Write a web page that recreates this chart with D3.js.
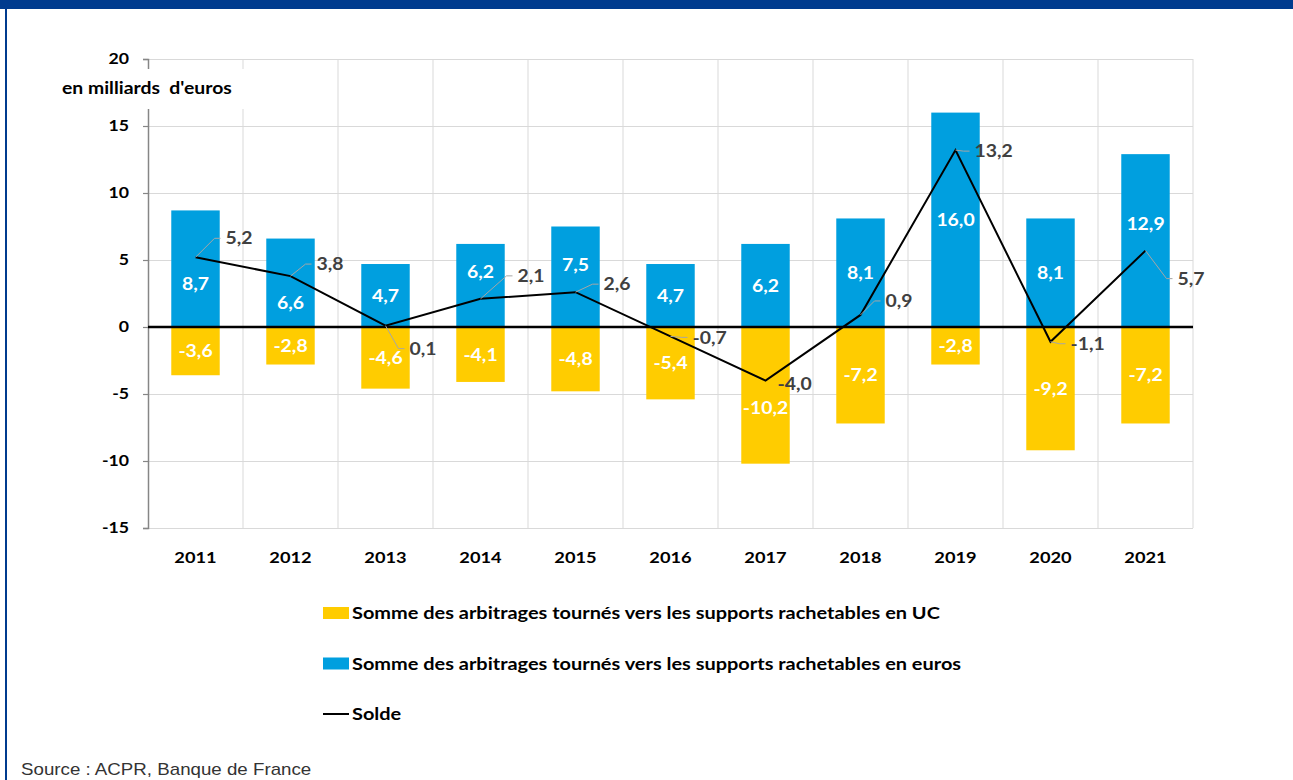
<!DOCTYPE html>
<html>
<head>
<meta charset="utf-8">
<script src="https://d3js.org/d3.v7.min.js"></script>
<style>
    body {
        margin: 0;
        background: #fff;
    }
    svg text {
        font-family: Lato, "Open Sans", sans-serif;
        font-weight: bold;
    }
    .grid line {
        stroke: #d9d9d9;
        stroke-width: 1;
    }
    .grid .domain {
        display: none;
    }
</style>
</head>
<body>
<svg width="1293" height="780"></svg>
<script>

    // values
    var years = ["2011", "2012", "2013", "2014", "2015", "2016", "2017", "2018", "2019", "2020", "2021"];
    var euros = [8.7, 6.6, 4.7, 6.2, 7.5, 4.7, 6.2, 8.1, 16.0, 8.1, 12.9];
    var uc = [-3.6, -2.8, -4.6, -4.1, -4.8, -5.4, -10.2, -7.2, -2.8, -9.2, -7.2];
    var solde = [5.2, 3.8, 0.1, 2.1, 2.6, -0.7, -4.0, 0.9, 13.2, -1.1, 5.7];
    var yTicks = [-15, -10, -5, 0, 5, 10, 15, 20];
    var legendLabels = [
        "Somme des arbitrages tournés vers les supports rachetables en UC",
        "Somme des arbitrages tournés vers les supports rachetables en euros",
        "Solde"
    ];

    // manual nudges of the solde labels (as in the original Excel chart)
    var soldeNudge = [[30, -19], [26, -12], [24, 23], [37, -23], [28, -8], [22, 1],
                      [12, 3], [25, -14], [19, 1], [20, 2], [32, 28]];

    var blue = "#009fdf",
        yellow = "#ffcc00";

    // the source picture is slightly stretched sideways
    var stretch = 1.14;

    var fr = d3.formatLocale({decimal: ",", thousands: " ", grouping: [3], currency: ["", " €"], minus: "-"});
    var fmt = fr.format(".1f");

    // move a text's x into a transform so it can be widened round its anchor
    function widen(sel, s) {
        sel.each(function() {
            var t = d3.select(this),
                tx = +t.attr("x") || 0,
                ty = +t.attr("y") || 0;
            t.attr("x", 0).attr("y", 0)
                .attr("transform", "translate(" + tx + "," + ty + ") scale(" + (s || stretch) + ",1)");
        });
    }

    var svg = d3.select("svg");

    // frame
    svg.append("rect").attr("x", 0).attr("y", 0).attr("width", 1293).attr("height", 9).attr("fill", "#003b8e");
    svg.append("rect").attr("x", 5).attr("y", 0).attr("width", 2).attr("height", 780).attr("fill", "#003b8e");

    var plot = {left: 148, right: 1193, top: 59, bottom: 528};

    var x = d3.scaleBand()
        .domain(years)
        .range([plot.left, plot.right])
        .padding(0);

    var barW = x.bandwidth() * 0.51;
    var cx = d => x(d) + x.bandwidth() / 2;

    var y = d3.scaleLinear()
        .domain([-15, 20])
        .range([plot.bottom, plot.top]);

    //
    // grid
    //

    svg.append("g")
        .attr("class", "grid")
        .attr("transform", "translate(" + plot.left + ",0)")
        .call(d3.axisLeft(y).tickValues(yTicks).tickSize(-(plot.right - plot.left)).tickFormat(""));

    svg.append("g")
        .attr("class", "grid")
        .selectAll("line")
        .data(years)
        .enter().append("line")
        .attr("x1", d => x(d) + x.bandwidth())
        .attr("x2", d => x(d) + x.bandwidth())
        .attr("y1", plot.top)
        .attr("y2", plot.bottom);

    //
    // y axis
    //

    var yAxis = svg.append("g")
        .attr("transform", "translate(" + plot.left + ",0)")
        .call(d3.axisLeft(y).tickValues(yTicks).tickSize(5).tickPadding(14).tickFormat(fr.format("d")));

    yAxis.select(".domain").attr("stroke", "#868686").attr("stroke-width", 1.5);
    yAxis.selectAll(".tick line").attr("stroke", "#868686").attr("stroke-width", 1.2);
    yAxis.selectAll(".tick text")
        .attr("fill", "#000")
        .style("font-size", "15.5px")
        .call(widen);

    // unit label over the axis
    svg.append("rect")
        .attr("x", 58).attr("y", 69)
        .attr("width", 190).attr("height", 40)
        .attr("fill", "#fff");

    svg.append("text")
        .attr("x", 62)
        .attr("y", 94)
        .style("font-size", "17px")
        .style("white-space", "pre")
        .attr("fill", "#000")
        .text("en milliards  d'euros")
        .call(widen);

    //
    // x axis labels
    //

    var xAxis = svg.append("g")
        .attr("transform", "translate(0," + plot.bottom + ")")
        .call(d3.axisBottom(x).tickSize(0).tickPadding(0));

    xAxis.select(".domain").remove();
    xAxis.selectAll(".tick text")
        .attr("fill", "#000")
        .attr("y", 29)
        .attr("dy", "0.36em")
        .style("font-size", "16px")
        .call(widen);

    //
    // bars
    //

    svg.selectAll(".bar-euro")
        .data(years)
        .enter().append("rect")
        .attr("class", "bar-euro")
        .attr("x", d => cx(d) - barW / 2)
        .attr("width", barW)
        .attr("y", (d, i) => y(euros[i]))
        .attr("height", (d, i) => y(0) - y(euros[i]))
        .attr("fill", blue);

    svg.selectAll(".bar-uc")
        .data(years)
        .enter().append("rect")
        .attr("class", "bar-uc")
        .attr("x", d => cx(d) - barW / 2)
        .attr("width", barW)
        .attr("y", y(0))
        .attr("height", (d, i) => y(uc[i]) - y(0))
        .attr("fill", yellow);

    // zero line
    svg.append("line")
        .attr("x1", plot.left).attr("x2", plot.right)
        .attr("y1", y(0)).attr("y2", y(0))
        .attr("stroke", "#000")
        .attr("stroke-width", 2.5);

    //
    // solde line
    //

    var line = d3.line()
        .x((d, i) => cx(years[i]))
        .y(d => y(d));

    svg.append("path")
        .datum(solde)
        .attr("d", line)
        .attr("fill", "none")
        .attr("stroke", "#000")
        .attr("stroke-width", 2);

    //
    // bar labels, moved off the solde line when they sit on it
    //

    function labelY(v, i) {
        var c = (y(0) + y(v)) / 2,
            l = y(solde[i]);
        if (Math.abs(c - l) < 24) {
            c = c < l ? l - 27 : l + 27;
        }
        return c;
    }

    svg.selectAll(".lab-euro")
        .data(years)
        .enter().append("text")
        .attr("class", "lab-euro")
        .attr("x", d => cx(d))
        .attr("y", (d, i) => labelY(euros[i], i))
        .attr("dy", "0.36em")
        .attr("text-anchor", "middle")
        .attr("fill", "#fff")
        .style("font-size", "17px")
        .text((d, i) => fmt(euros[i]))
        .call(widen);

    svg.selectAll(".lab-uc")
        .data(years)
        .enter().append("text")
        .attr("class", "lab-uc")
        .attr("x", d => cx(d))
        .attr("y", (d, i) => labelY(uc[i], i))
        .attr("dy", "0.36em")
        .attr("text-anchor", "middle")
        .attr("fill", "#fff")
        .style("font-size", "17px")
        .text((d, i) => fmt(uc[i]))
        .call(widen);

    //
    // solde labels with leader lines
    //

    var soldeG = svg.selectAll(".lab-solde")
        .data(years)
        .enter().append("g")
        .attr("class", "lab-solde");

    soldeG.filter((d, i) => Math.hypot(soldeNudge[i][0], soldeNudge[i][1]) > 15)
        .append("polyline")
        .attr("points", function(d) {
            var i = years.indexOf(d),
                px = cx(d), py = y(solde[i]),
                tx = px + soldeNudge[i][0], ty = py + soldeNudge[i][1];
            return [[px, py], [tx - 11, ty], [tx - 5, ty]].join(" ");
        })
        .attr("fill", "none")
        .attr("stroke", "#a6a6a6")
        .attr("stroke-width", 1);

    soldeG.append("text")
        .attr("x", (d, i) => cx(d) + soldeNudge[i][0])
        .attr("y", (d, i) => y(solde[i]) + soldeNudge[i][1])
        .attr("dy", "0.36em")
        .attr("fill", "#404040")
        .style("font-size", "17px")
        .text((d, i) => fmt(solde[i]))
        .call(widen);

    //
    // legend
    //

    var legend = svg.selectAll(".legend")
        .data(legendLabels)
        .enter().append("g")
        .attr("class", "legend")
        .attr("transform", (d, i) => "translate(323," + (613 + i * 50.5) + ")");

    legend.filter((d, i) => i < 2)
        .append("rect")
        .attr("x", 0).attr("y", -6)
        .attr("width", 26).attr("height", 12)
        .attr("fill", (d, i) => i === 0 ? yellow : blue);

    legend.filter((d, i) => i === 2)
        .append("line")
        .attr("x1", 0).attr("x2", 26)
        .attr("y1", 0).attr("y2", 0)
        .attr("stroke", "#000")
        .attr("stroke-width", 2);

    legend.append("text")
        .attr("x", 29)
        .attr("dy", "0.36em")
        .attr("fill", "#000")
        .style("font-size", "17.5px")
        .text(d => d)
        .call(widen);

    // source
    svg.append("text")
        .attr("x", 21)
        .attr("y", 775)
        .style("font-family", "'Liberation Sans', Arial, sans-serif")
        .style("font-weight", "normal")
        .style("font-size", "16px")
        .attr("fill", "#333")
        .text("Source : ACPR, Banque de France")
        .call(widen, 1.17);

</script>
</body>
</html>
